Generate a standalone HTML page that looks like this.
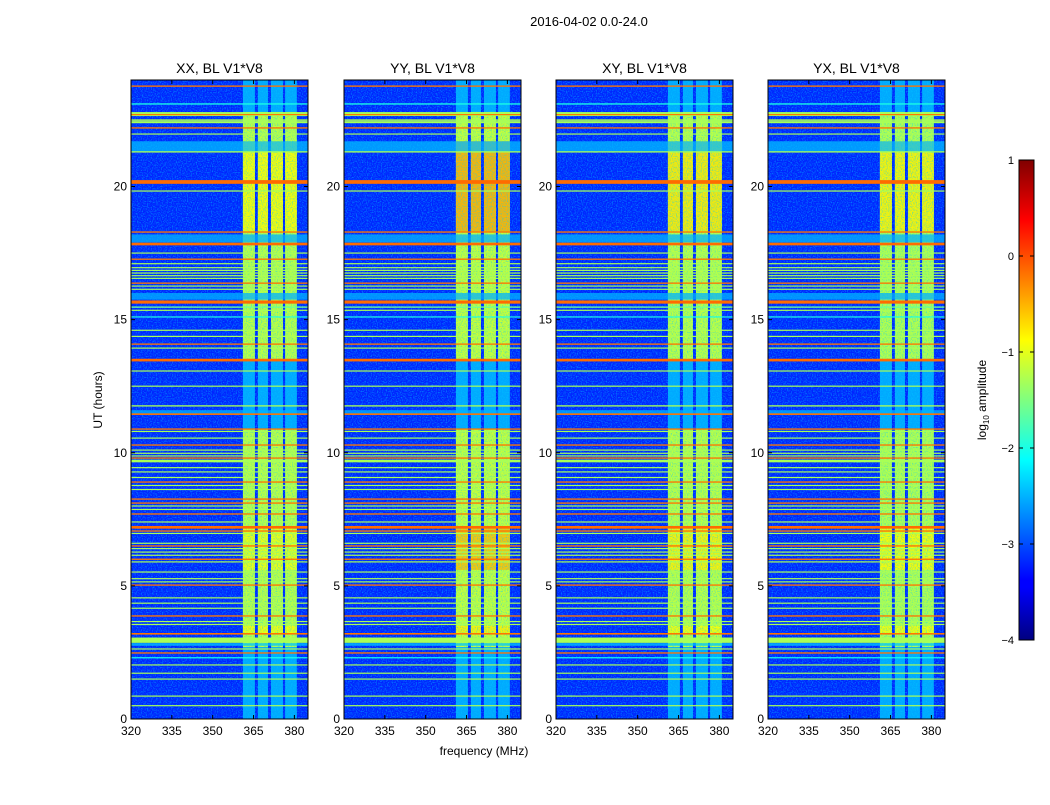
<!DOCTYPE html>
<html><head><meta charset="utf-8">
<style>
body{margin:0;background:#fff;width:1050px;height:800px;overflow:hidden;font-family:"Liberation Sans",sans-serif;}
svg text{font-family:"Liberation Sans",sans-serif;fill:#000;}
</style></head>
<body>
<svg id="fig" width="1050" height="800" xmlns="http://www.w3.org/2000/svg">
<defs>
<filter id="speck" x="0" y="0" width="1" height="1" filterUnits="objectBoundingBox">
<feTurbulence type="fractalNoise" baseFrequency="0.8" numOctaves="1" seed="3" result="n"/>
<feColorMatrix in="n" type="matrix" values="0 0 0 0 0  0 0 0 0 0.6  0 0 0 0 1  3 0 0 0 -1.3"/>
</filter>
<linearGradient id="jet" x1="0" y1="1" x2="0" y2="0">
<stop offset="0" stop-color="#000080"/><stop offset="0.11" stop-color="#0000ff"/>
<stop offset="0.125" stop-color="#0000ff"/><stop offset="0.375" stop-color="#00ffff"/>
<stop offset="0.625" stop-color="#ffff00"/><stop offset="0.875" stop-color="#ff0000"/>
<stop offset="1" stop-color="#800000"/>
</linearGradient>
</defs>
<text x="589" y="26" font-size="13" text-anchor="middle">2016-04-02 0.0-24.0</text>
<text x="484" y="755" font-size="12" text-anchor="middle">frequency (MHz)</text>
<text transform="translate(102,400) rotate(-90)" font-size="12" text-anchor="middle">UT (hours)</text>
<g id="panels"></g>
<g>
<rect x="1019" y="160" width="15" height="480" fill="url(#jet)" stroke="#000" stroke-width="1"/>
<g id="cbticks"></g>
<text transform="translate(986,400) rotate(-90)" font-size="12" text-anchor="middle">log<tspan font-size="8" dy="3">10</tspan><tspan dy="-3"> amplitude</tspan></text>
</g>
</svg>
<script>
const panelTitles = ["XX, BL V1*V8","YY, BL V1*V8","XY, BL V1*V8","YX, BL V1*V8"];
const xTicks = [320,335,350,365,380];
const yTicks = [0,5,10,15,20];
const cbTicks = [1,0,-1,-2,-3,-4];
const bgLevel = -3.2;
// channels (MHz)
const chanStart = [361.1,366.6,371.4,376.6];
const chanEnd   = [365.5,370.3,375.8,380.9];
const chanFaint = -2.55;
// bright segments (hours)
const segStart = [2.7,13.45];
const segEnd   = [10.9,22.8];
const segLevel = [-1.2,-1.15,-1.2,-1.25];
// hot patches
const hotStart = [18.3,5.6,3.2];
const hotEnd   = [21.7,7.2,3.5];
const hotLevel = [[-0.85,-0.95,-0.9],[-0.45,-0.55,-0.8],[-0.75,-0.8,-0.9],[-0.8,-0.85,-0.9]];
// broad cyan bands
const bandStart = [21.3,17.9,15.75,11.45,2.75];
const bandEnd   = [21.7,18.2,16.0,11.6,2.85];
const bandLevel = [-2.45,-2.5,-2.5,-2.5,-2.4];
// narrow horizontal RFI lines
const lineHour = [23.77,23.1,22.72,22.7,22.5,22.45,22.4,22.2,21.97,21.3,20.17,19.83,18.29,17.84,17.5,17.27,17.1,16.95,16.85,16.75,16.65,16.55,16.37,16.26,16.14,15.66,15.47,15.35,15.1,14.6,14.37,14.08,13.93,13.48,13.07,12.5,11.76,11.45,10.89,10.8,10.55,10.29,10.1,9.98,9.88,9.8,9.69,9.44,9.28,9.07,8.9,8.77,8.62,8.26,8.11,8.0,7.87,7.7,7.4,7.2,7.06,6.97,6.6,6.5,6.4,6.27,6.15,6.0,5.9,5.52,5.27,5.15,5.03,4.55,4.35,4.16,3.87,3.66,3.55,3.2,2.96,2.63,2.48,2.3,2.03,1.72,1.5,0.86,0.5];
const lineDur  = [0.05,0.05,0.15,0.04,0.04,0.04,0.04,0.05,0.04,0.05,0.14,0.04,0.05,0.1,0.04,0.05,0.04,0.04,0.04,0.04,0.04,0.04,0.05,0.04,0.04,0.12,0.05,0.04,0.04,0.04,0.04,0.05,0.04,0.1,0.04,0.04,0.05,0.06,0.05,0.04,0.04,0.05,0.04,0.04,0.04,0.05,0.1,0.04,0.04,0.04,0.05,0.04,0.04,0.05,0.05,0.04,0.04,0.05,0.04,0.1,0.05,0.04,0.04,0.05,0.04,0.04,0.04,0.05,0.04,0.04,0.04,0.04,0.05,0.04,0.04,0.04,0.05,0.04,0.04,0.06,0.2,0.04,0.05,0.04,0.04,0.04,0.04,0.04,0.04];
const lineLevel= [-0.2,-2.0,-1.3,-0.2,-1.3,-1.3,-1.3,-0.2,-1.3,-1.3,-0.15,-1.3,-0.2,-0.15,-1.3,-0.2,-1.3,-1.3,-1.3,-1.3,-1.3,-1.3,-0.2,-1.3,-1.3,-0.15,-1.6,-1.3,-2.0,-1.3,-1.3,-0.2,-1.3,-0.15,-1.3,-1.3,-1.3,-0.2,-0.2,-1.3,-1.3,-0.2,-1.3,-1.3,-1.3,-0.2,-1.3,-1.3,-1.3,-1.3,-0.2,-1.3,-1.3,-0.2,-0.2,-1.3,-1.3,-0.2,-1.3,-0.15,-0.2,-1.3,-1.3,-0.2,-1.3,-1.3,-1.3,-0.2,-1.3,-1.3,-1.3,-1.3,-0.2,-1.3,-1.3,-1.3,-0.2,-1.3,-1.3,-0.2,-1.3,-1.3,-0.2,-2.0,-1.3,-1.3,-1.3,-1.3,-1.3];

const NS="http://www.w3.org/2000/svg";
const panelX=[131,344,556,768], PW=177, PT=80, PB=719;
const fMin=320,fMax=385,hMin=0,hMax=24;
function jet(v){const t=Math.max(0,Math.min(1,(v+4)/5));
 const c=x=>Math.round(255*Math.max(0,Math.min(1,1.5-Math.abs(4*t-x))));
 return `rgb(${c(3)},${c(2)},${c(1)})`;}
function mk(tag,attrs,parent){const e=document.createElementNS(NS,tag);for(const k in attrs)e.setAttribute(k,attrs[k]);parent.appendChild(e);return e;}
const root=document.getElementById('panels');
panelX.forEach((px,p)=>{
 const xs=f=>px+(f-fMin)/(fMax-fMin)*PW;
 const ys=h=>PB-(h-hMin)/(hMax-hMin)*(PB-PT);
 const g=mk('g',{},root);
 
 
 const cid='clip'+p;
 const cp=mk('clipPath',{id:cid},g);mk('rect',{x:px,y:PT,width:PW,height:PB-PT},cp);
 const hm=mk('g',{'clip-path':`url(#${cid})`},g);
 
 
 mk('rect',{x:px,y:PT,width:PW,height:PB-PT,fill:jet(bgLevel)},hm);
 chanStart.forEach((cs,i)=>{
  const r=mk('rect',{x:xs(cs),y:ys(hMax),width:xs(chanEnd[i])-xs(cs),height:ys(hMin)-ys(hMax),fill:jet(chanFaint)},hm);
  
  
  segStart.forEach((ss,j)=>{
   const s=mk('rect',{x:xs(cs),y:ys(segEnd[j]),width:xs(chanEnd[i])-xs(cs),height:ys(ss)-ys(segEnd[j]),fill:jet(segLevel[p])},hm);
   
   
  });
  hotStart.forEach((hs,j)=>{
   const s=mk('rect',{x:xs(cs),y:ys(hotEnd[j]),width:xs(chanEnd[i])-xs(cs),height:ys(hs)-ys(hotEnd[j]),fill:jet(hotLevel[p][j]),opacity:0.85},hm);
   
   
  });
 });
 mk('rect',{x:px,y:PT,width:PW,height:PB-PT,fill:'#000',filter:'url(#speck)',opacity:0.5},hm);
 bandStart.forEach((bs,i)=>{
  const b=mk('rect',{x:px,y:ys(bandEnd[i]),width:PW,height:ys(bs)-ys(bandEnd[i]),fill:jet(bandLevel[i]),opacity:0.75},hm);
  
  
 });
 lineHour.forEach((h,i)=>{
  const hgt=Math.max(1.2,ys(h-lineDur[i]/2)-ys(h+lineDur[i]/2));
  const l=mk('rect',{x:px,y:ys(h)-hgt/2,width:PW,height:hgt,fill:jet(lineLevel[i])},hm);
  
  
 });
 const fr=mk('rect',{x:px,y:PT,width:PW,height:PB-PT,fill:'none',stroke:'#000','stroke-width':1},g);
 
 
 const t=mk('text',{x:px+PW/2,y:PT-7,'font-size':14,'text-anchor':'middle'},g);
 t.textContent=panelTitles[p];
 
 
 xTicks.forEach(v=>{const x=xs(v);
  mk('line',{x1:x,y1:PB,x2:x,y2:PB-4,stroke:'#000'},g);
  mk('line',{x1:x,y1:PT,x2:x,y2:PT+4,stroke:'#000'},g);
  const tl=mk('text',{x:x,y:PB+16,'font-size':12,'text-anchor':'middle'},g);tl.textContent=v;
  
  });
 yTicks.forEach(v=>{const y=ys(v);
  mk('line',{x1:px,y1:y,x2:px+4,y2:y,stroke:'#000'},g);
  mk('line',{x1:px+PW,y1:y,x2:px+PW-4,y2:y,stroke:'#000'},g);
  const tl=mk('text',{x:px-4,y:y+4,'font-size':12,'text-anchor':'end'},g);tl.textContent=v;
  
  });
});
const cb=document.getElementById('cbticks');
cbTicks.forEach(v=>{const y=160+(1-v)/5*480;
 mk('line',{x1:1019,y1:y,x2:1023,y2:y,stroke:'#000'},cb);
 mk('line',{x1:1034,y1:y,x2:1030,y2:y,stroke:'#000'},cb);
 const tl=mk('text',{x:1014,y:y+4,'font-size':11,'text-anchor':'end'},cb);
 tl.textContent=v<0?'\u2212'+(-v):v;
 
 });
</script>
</body></html>
